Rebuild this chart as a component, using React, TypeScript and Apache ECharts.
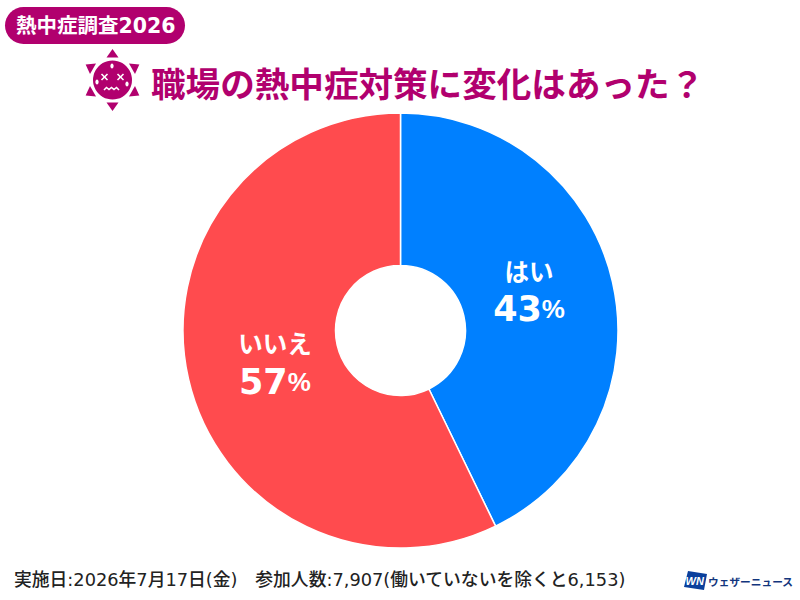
import React, { useEffect, useRef } from "react";
import * as echarts from "echarts";

const categories = ["はい", "いいえ"];
const values = [42.8, 57.2];
const colors = ["#0080ff", "#ff4b4e"];
const badgeText = "熱中症調査2026";
const titleText = "職場の熱中症対策に変化はあった？";
const footerText = "実施日:2026年7月17日(金)　参加人数:7,907(働いていないを除くと6,153)";
const logoText = "ウェザーニュース";
const labelOffsets = [
  [-12, -9],
  [15, -1],
];

const MAGENTA = "#b1006e";
const JP = '"Noto Sans CJK JP", "Noto Sans", sans-serif';
const MIXED = '"DejaVu Sans", "Noto Sans CJK JP", sans-serif';

function sunIcon() {
  const cx = 112.5;
  const cy = 80;
  const tri = (deg: number) => {
    const a = (deg * Math.PI) / 180;
    const r1 = 22.5;
    const r2 = 31;
    const w = 6;
    const ux = Math.sin(a);
    const uy = -Math.cos(a);
    return {
      type: "polygon",
      shape: {
        points: [
          [cx + ux * r2, cy + uy * r2],
          [cx + ux * r1 - uy * w, cy + uy * r1 + ux * w],
          [cx + ux * r1 + uy * w, cy + uy * r1 - ux * w],
        ],
      },
      style: { fill: MAGENTA },
    };
  };
  const stroke = { stroke: "#fff", lineWidth: 1.6, fill: "none" };
  const cross = (x: number, y: number) => [
    { type: "line", shape: { x1: x - 3, y1: y - 3, x2: x + 3, y2: y + 3 }, style: stroke },
    { type: "line", shape: { x1: x - 3, y1: y + 3, x2: x + 3, y2: y - 3 }, style: stroke },
  ];
  const drop = (x: number, y: number) => ({
    type: "ellipse",
    shape: { cx: x, cy: y, rx: 1.6, ry: 2.4 },
    style: { fill: "#fff" },
  });
  return [
    ...[0, 60, 120, 180, 240, 300].map(tri),
    { type: "circle", shape: { cx, cy, r: 19.5 }, style: { fill: MAGENTA } },
    ...cross(104.5, 77),
    ...cross(120.5, 77),
    drop(112, 66),
    drop(97, 82),
    drop(127, 84),
    {
      type: "polyline",
      shape: {
        points: [
          [104, 90],
          [106.5, 87.5],
          [109, 89.5],
          [111.5, 87.5],
          [114, 89.5],
          [116.5, 87.5],
          [119, 90],
        ],
      },
      style: stroke,
    },
  ];
}

export default function App() {
  const ref = useRef<HTMLDivElement>(null);
  useEffect(() => {
    const chart = echarts.init(ref.current!, undefined, { renderer: "svg" });
    chart.setOption({
      animation: false,
      backgroundColor: "#ffffff",
      title: [
        {
          text: titleText,
          left: 151,
          top: 62,
          padding: 0,
          textStyle: { color: MAGENTA, fontFamily: JP, fontWeight: 700, fontSize: 34.6, lineHeight: 40 },
        },
        {
          text: footerText,
          left: 14,
          top: 568,
          padding: 0,
          textStyle: { color: "#222222", fontFamily: MIXED, fontWeight: 500, fontSize: 17.8, lineHeight: 22 },
        },
      ],
      series: [
        {
          type: "pie",
          center: [400.5, 330.5],
          radius: [65, 217.5],
          startAngle: 90,
          clockwise: true,
          silent: true,
          itemStyle: { borderColor: "#ffffff", borderWidth: 1.5 },
          data: categories.map((name, i) => ({
            name,
            value: values[i],
            itemStyle: { color: colors[i] },
            label: { offset: labelOffsets[i] },
          })),
          label: {
            show: true,
            position: "inside",
            formatter: (p: any) => `{n|${p.name}}\n{v|${Math.round(p.value)}}{p|%}`,
            rich: {
              n: { color: "#fff", fontFamily: JP, fontWeight: 700, fontSize: 24.5, lineHeight: 40, align: "center" },
              v: { color: "#fff", fontFamily: '"DejaVu Sans", sans-serif', fontWeight: 700, fontSize: 35, lineHeight: 38 },
              p: { color: "#fff", fontFamily: '"Liberation Sans", sans-serif', fontWeight: 700, fontSize: 26, lineHeight: 38 },
            },
          },
          labelLine: { show: false },
        },
      ],
      graphic: [
        {
          type: "rect",
          shape: { x: 5, y: 7, width: 180, height: 37, r: 18.5 },
          style: { fill: MAGENTA },
        },
        {
          type: "text",
          x: 16,
          y: 25.5,
          style: {
            text: badgeText,
            fill: "#fff",
            font: `700 20.5px ${MIXED}`,
            textVerticalAlign: "middle",
          },
        },
        ...sunIcon(),
        {
          type: "polygon",
          shape: {
            points: [
              [688, 571],
              [707, 574],
              [704, 590],
              [684, 587],
            ],
          },
          style: { fill: "#0a3f9c" },
        },
        {
          type: "text",
          x: 685.5,
          y: 581,
          style: {
            text: "WN",
            fill: "#fff",
            font: `italic 700 11px "Liberation Sans", sans-serif`,
            textVerticalAlign: "middle",
          },
        },
        {
          type: "text",
          x: 708,
          y: 581,
          style: {
            text: logoText,
            fill: "#12357d",
            font: `700 10.7px ${JP}`,
            textVerticalAlign: "middle",
          },
        },
      ],
    });
    return () => chart.dispose();
  }, []);
  return (
    <div
      ref={ref}
      style={{ position: "absolute", left: 0, top: 0, width: 800, height: 600 }}
    />
  );
}
